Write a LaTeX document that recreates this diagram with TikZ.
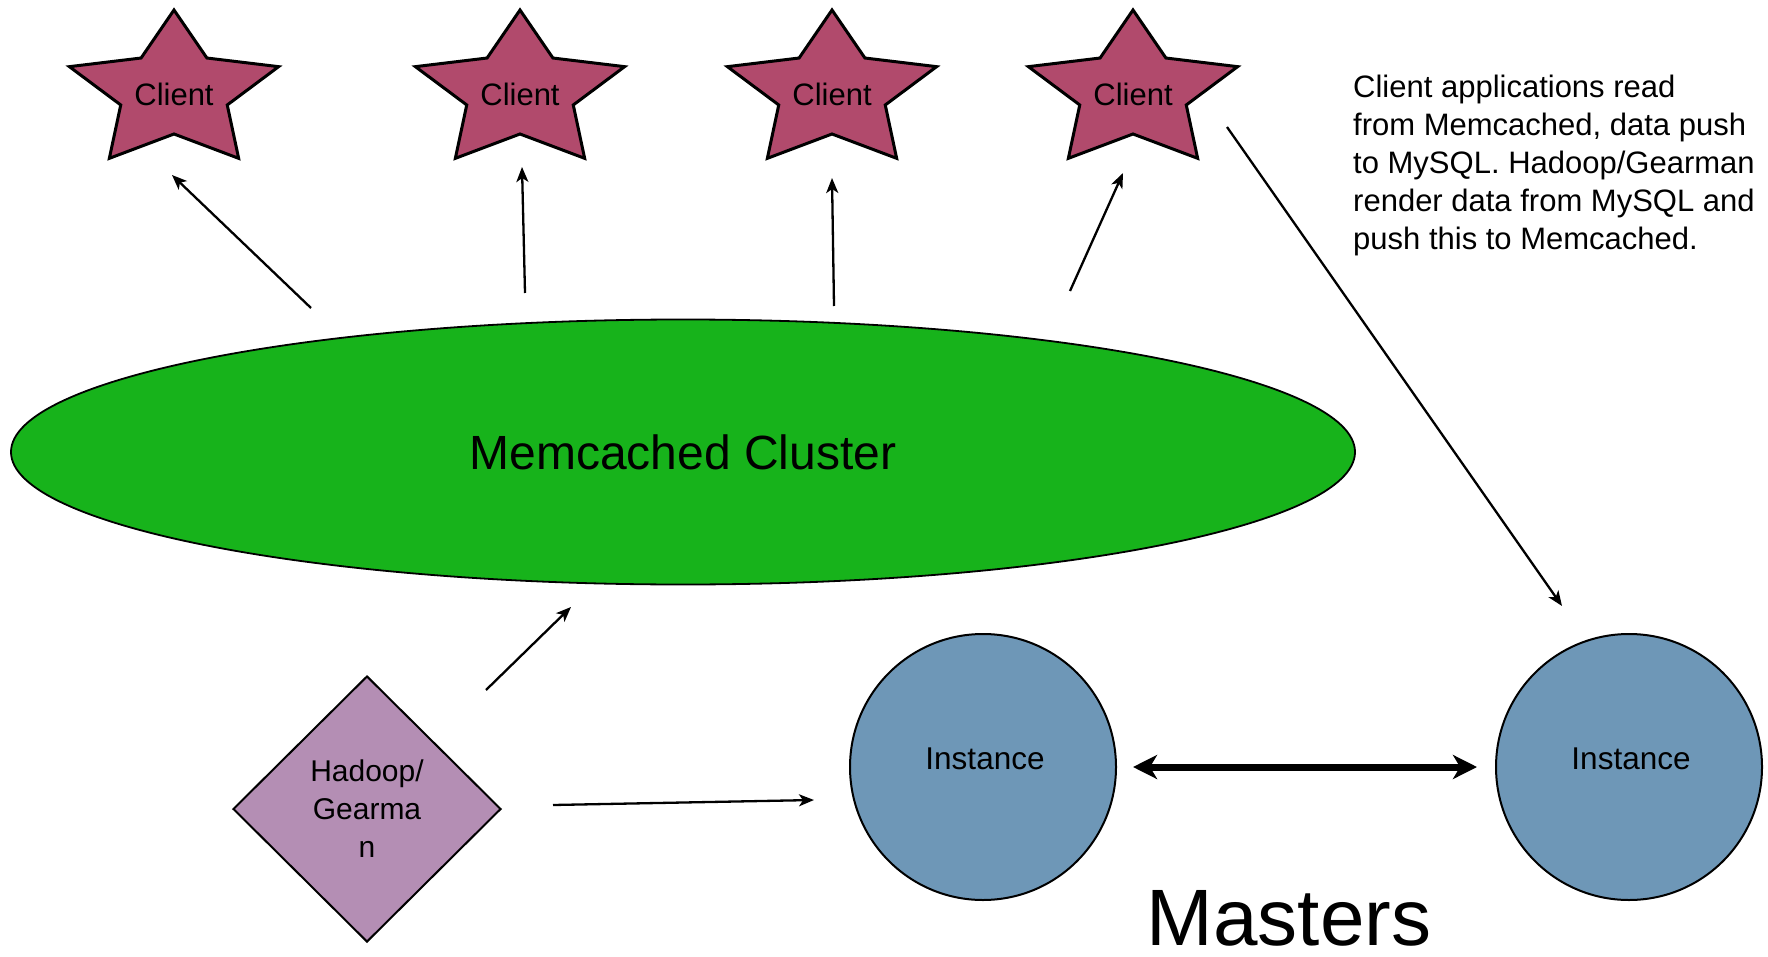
\documentclass[tikz,border=0pt]{standalone}
\usepackage{fontspec}
\setmainfont{Liberation Sans}
\usetikzlibrary{shapes.geometric,arrows.meta}
\definecolor{starfill}{RGB}{177,74,108}
\definecolor{clustergreen}{RGB}{23,179,27}
\definecolor{instfill}{RGB}{110,151,183}
\definecolor{diafill}{RGB}{180,142,180}
\tikzset{
  starline/.style={draw=black,line width=3pt,fill=starfill,line join=miter},
  clientstar/.pic={
    \path[starline] (-90:110 and 82) -- (-126:56 and 42) -- (-162:110 and 82) -- (-198:56 and 42)
      -- (-234:110 and 82) -- (-270:56 and 42) -- (-306:110 and 82) -- (-342:56 and 42)
      -- (-18:110 and 82) -- (-54:56 and 42) -- cycle;
  },
  clienttext/.style={font=\fontsize{31}{37}\selectfont,inner sep=0pt},
  arr/.style={line width=2.3pt,-{Stealth[length=15pt,width=12pt,inset=4pt]}},
  bigarr/.style={line width=7pt,{Stealth[length=24pt,width=24pt,inset=7pt]}-{Stealth[length=24pt,width=24pt,inset=7pt]}},
  cluster/.style={ellipse,draw=black,line width=1.8pt,fill=clustergreen,minimum width=1344pt,minimum height=265pt,inner sep=0pt,font=\fontsize{48}{56}\selectfont},
  instance/.style={circle,draw=black,line width=2pt,fill=instfill,minimum size=266pt,inner sep=0pt},
  insttext/.style={font=\fontsize{31.5}{37}\selectfont,inner sep=0pt},
  hadoop/.style={diamond,draw=black,line width=2pt,fill=diafill,minimum width=268pt,minimum height=266pt,inner sep=0pt,align=center,font=\fontsize{30}{38}\selectfont},
  note/.style={align=left,inner sep=0pt,font=\fontsize{31}{38}\selectfont},
}
\begin{document}
\begin{tikzpicture}[x=1pt,y=-1pt]
\useasboundingbox[fill=white] (0,0) rectangle (1768,957);

% stars
\pic at (174,92) {clientstar};
\pic at (520,92) {clientstar};
\pic at (832,92) {clientstar};
\pic at (1133,92) {clientstar};
\node[clienttext] (c1) at (174,94) {Client};
\node[clienttext] (c2) at (520,94) {Client};
\node[clienttext] (c3) at (832,94) {Client};
\node[clienttext] (c4) at (1133,94) {Client};

% cluster
\node[cluster] (mc) at (683,452) {Memcached Cluster};

% instances
\node[instance] (i1) at (983,767) {};
\node[instance] (i2) at (1629,767) {};
\node[insttext] (t1) at (985,759) {Instance};
\node[insttext] (t2) at (1631,759) {Instance};

% hadoop
\node[hadoop] (hg) at (367,809) {Hadoop/\\Gearma\\n};

% masters
\node[font=\fontsize{80}{88}\selectfont,inner sep=0pt,text depth=0pt,anchor=base] (ms) at (1289,945) {Masters};

% note
\node[note,anchor=north west] (nt) at (1353,75) {Client applications read\\from Memcached, data push\\to MySQL. Hadoop/Gearman\\render data from MySQL and\\push this to Memcached.};

% connector end points
\coordinate (a1s) at (311,308); \coordinate (a1e) at (172,175);
\coordinate (a2s) at (525,293); \coordinate (a2e) at (522,167);
\coordinate (a3s) at (834,306); \coordinate (a3e) at (832,178);
\coordinate (a4s) at (1070,291); \coordinate (a4e) at (1123,173);
\coordinate (a5s) at (1227,127); \coordinate (a5e) at (1562,606);
\coordinate (a6s) at (486,690); \coordinate (a6e) at (571,607);
\coordinate (a7s) at (553,805); \coordinate (a7e) at (814,800);
\coordinate (a8s) at (1133,767); \coordinate (a8e) at (1477,767);

\draw[arr] (a1s) -- (a1e);
\draw[arr] (a2s) -- (a2e);
\draw[arr] (a3s) -- (a3e);
\draw[arr] (a4s) -- (a4e);
\draw[arr] (a5s) -- (a5e);
\draw[arr] (a6s) -- (a6e);
\draw[arr] (a7s) -- (a7e);
\draw[bigarr] (a8s) -- (a8e);
\end{tikzpicture}
\end{document}
